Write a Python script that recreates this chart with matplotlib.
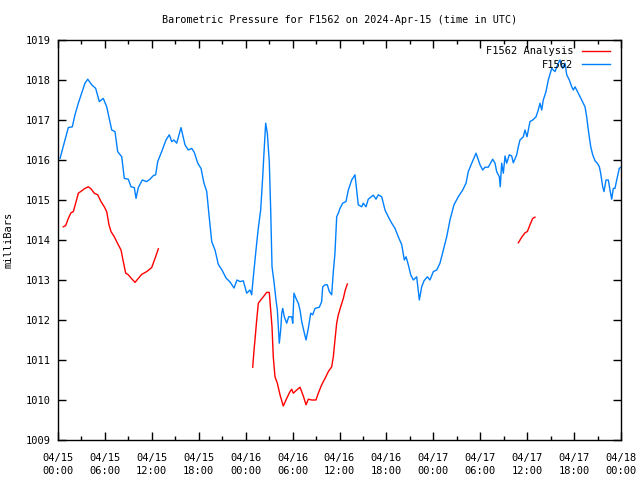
import matplotlib
matplotlib.use("Agg")
import matplotlib.pyplot as plt
import numpy as np

# hours since 2024-04-15 00:00 UTC
obs_hours = [0.26, 0.90, 1.32, 1.83, 2.17, 2.60, 3.03, 3.45, 3.80, 4.31, 4.82, 5.28, 5.79, 6.23,
             6.87, 7.29, 7.63, 8.15, 8.48, 8.99, 9.34, 9.76, 9.98, 10.27, 10.78, 11.34, 11.77,
             12.19, 12.49, 12.75, 13.26, 13.81, 14.23, 14.54, 14.83, 15.18, 15.73, 16.24, 16.66,
             17.10, 17.43, 17.87, 18.29, 18.67, 19.02, 19.31, 19.66, 20.08, 20.50, 20.97, 21.49,
             22.00, 22.51, 22.89, 23.28, 23.70, 24.13, 24.55, 24.77, 24.98, 25.41, 25.62, 25.92,
             26.18, 26.34, 26.56, 26.77, 27.02, 27.20, 27.37, 27.62, 27.88, 28.05, 28.17, 28.30,
             28.48, 28.61, 28.74, 28.94, 29.25, 29.50, 29.89, 30.02, 30.18, 30.44, 30.73, 30.95,
             31.17, 31.46, 31.72, 32.01, 32.32, 32.57, 32.87, 33.42, 33.72, 33.85, 34.15, 34.44,
             34.70, 35.00, 35.21, 35.42, 35.64, 35.85, 36.06, 36.41, 36.83, 37.13, 37.56, 37.98,
             38.20, 38.40, 38.84, 39.04, 39.39, 39.68, 40.32, 40.67, 40.96, 41.40, 41.82, 42.24,
             42.68, 43.10, 43.52, 43.96, 44.29, 44.51, 44.80, 45.11, 45.44, 45.87, 46.21, 46.51,
             46.81, 47.23, 47.57, 48.00, 48.43, 48.85, 49.28, 49.71, 50.13, 50.64, 51.19, 51.76,
             52.18, 52.47, 52.91, 53.46, 53.97, 54.31, 54.61, 55.03, 55.59, 55.89, 56.10, 56.44,
             56.56, 56.74, 56.95, 57.17, 57.38, 57.72, 58.02, 58.23, 58.66, 58.87, 59.08, 59.51,
             59.72, 59.98, 60.36, 60.71, 61.13, 61.42, 61.64, 61.86, 62.06, 62.41, 62.70, 63.14,
             63.56, 63.98, 64.20, 64.54, 64.84, 65.06, 65.39, 65.70, 65.90, 66.12, 66.54, 66.97,
             67.40, 67.61, 67.82, 68.13, 68.38, 68.68, 68.97, 69.23, 69.40, 69.66, 69.83, 70.08,
             70.38, 70.59, 70.81, 71.02, 71.23, 71.45, 71.78, 72.00]
obs_mb = [1016.04, 1016.50, 1016.81, 1016.83, 1017.13, 1017.42, 1017.67, 1017.92, 1018.02, 1017.88,
          1017.79, 1017.46, 1017.54, 1017.33, 1016.75, 1016.71, 1016.21, 1016.08, 1015.54, 1015.52,
          1015.33, 1015.31, 1015.04, 1015.31, 1015.50, 1015.46, 1015.52, 1015.61, 1015.63, 1015.96,
          1016.21, 1016.50, 1016.63, 1016.46, 1016.50, 1016.42, 1016.81, 1016.38, 1016.25, 1016.29,
          1016.19, 1015.92, 1015.79, 1015.42, 1015.21, 1014.63, 1013.96, 1013.75, 1013.39, 1013.25,
          1013.05, 1012.95, 1012.80, 1013.00, 1012.96, 1012.98, 1012.67, 1012.75, 1012.63, 1013.08,
          1013.92, 1014.30, 1014.75, 1015.58, 1016.17, 1016.92, 1016.67, 1015.96, 1014.75, 1013.33,
          1012.96, 1012.50, 1012.25, 1011.83, 1011.42, 1011.75, 1012.17, 1012.29, 1012.08, 1011.92,
          1012.08, 1012.08, 1011.92, 1012.67, 1012.54, 1012.42, 1012.25, 1011.96, 1011.71, 1011.50,
          1011.79, 1012.17, 1012.13, 1012.29, 1012.32, 1012.46, 1012.83, 1012.88, 1012.88, 1012.71,
          1012.63, 1013.21, 1013.67, 1014.58, 1014.67, 1014.79, 1014.92, 1014.96, 1015.25, 1015.50,
          1015.63, 1015.25, 1014.88, 1014.83, 1014.92, 1014.83, 1015.02, 1015.12, 1015.02, 1015.13,
          1015.08, 1014.75, 1014.58, 1014.42, 1014.29, 1014.08, 1013.88, 1013.50, 1013.58, 1013.38,
          1013.13, 1013.00, 1013.08, 1012.50, 1012.83, 1012.98, 1013.08, 1013.00, 1013.21, 1013.25,
          1013.42, 1013.75, 1014.08, 1014.50, 1014.88, 1015.08, 1015.25, 1015.42, 1015.71, 1015.92,
          1016.17, 1015.88, 1015.75, 1015.82, 1015.82, 1016.02, 1015.92, 1015.71, 1015.58, 1015.33,
          1015.92, 1015.67, 1016.10, 1015.92, 1016.13, 1016.10, 1015.93, 1016.13, 1016.33, 1016.50,
          1016.58, 1016.75, 1016.58, 1016.96, 1017.00, 1017.08, 1017.25, 1017.42, 1017.25, 1017.50,
          1017.71, 1018.00, 1018.29, 1018.21, 1018.42, 1018.50, 1018.29, 1018.42, 1018.13, 1018.00,
          1017.83, 1017.75, 1017.83, 1017.67, 1017.50, 1017.33, 1017.08, 1016.75, 1016.33, 1016.13,
          1015.98, 1015.92, 1015.83, 1015.67, 1015.33, 1015.21, 1015.50, 1015.50, 1015.25, 1015.02,
          1015.29, 1015.29, 1015.50, 1015.79, 1015.82]

# analysis, three separate runs
ana1_hours = [0.68, 0.98, 1.32, 1.66, 1.96, 2.26, 2.60, 3.03, 3.45, 3.88, 4.22, 4.64, 5.08, 5.50,
              5.92, 6.23, 6.52, 6.78, 7.20, 7.71, 8.06, 8.35, 8.66, 8.99, 9.43, 9.85, 10.27,
              10.70, 11.34, 11.98, 12.41, 12.83]
ana1_mb = [1014.33, 1014.36, 1014.54, 1014.68, 1014.71, 1014.92, 1015.17, 1015.23, 1015.29,
           1015.33, 1015.28, 1015.17, 1015.13, 1014.96, 1014.83, 1014.71, 1014.38, 1014.21,
           1014.08, 1013.88, 1013.75, 1013.46, 1013.17, 1013.13, 1013.03, 1012.94, 1013.04,
           1013.14, 1013.21, 1013.31, 1013.54, 1013.78]
ana2_hours = [24.90, 25.07, 25.19, 25.41, 25.62, 25.92, 26.26, 26.69, 27.02, 27.20, 27.37, 27.53,
              27.75, 28.05, 28.39, 28.81, 29.25, 29.67, 29.89, 30.09, 30.53, 30.95, 31.37, 31.72,
              32.01, 32.45, 32.99, 33.29, 33.72, 34.15, 34.57, 35.00, 35.21, 35.42, 35.64, 35.85,
              36.15, 36.49, 36.74, 37.00]
ana2_mb = [1010.82, 1011.25, 1011.50, 1012.00, 1012.42, 1012.50, 1012.58, 1012.69, 1012.69,
           1012.25, 1011.83, 1011.08, 1010.58, 1010.42, 1010.13, 1009.85, 1010.04, 1010.21,
           1010.27, 1010.17, 1010.25, 1010.32, 1010.10, 1009.88, 1010.02, 1010.00, 1010.00,
           1010.17, 1010.38, 1010.54, 1010.71, 1010.83, 1011.08, 1011.50, 1011.92, 1012.13,
           1012.33, 1012.54, 1012.75, 1012.90]
ana3_hours = [58.87, 59.30, 59.72, 60.02, 60.36, 60.71, 61.00]
ana3_mb = [1013.93, 1014.07, 1014.18, 1014.21, 1014.38, 1014.54, 1014.57]

tick_hours = list(range(0, 73, 6))
tick_labels = ["04/15\n00:00", "04/15\n06:00", "04/15\n12:00", "04/15\n18:00",
               "04/16\n00:00", "04/16\n06:00", "04/16\n12:00", "04/16\n18:00",
               "04/17\n00:00", "04/17\n06:00", "04/17\n12:00", "04/17\n18:00",
               "04/18\n00:00"]

plt.rcParams['font.family'] = ['DejaVu Sans Mono']
plt.rcParams['font.size'] = 7.5

fig = plt.figure(figsize=(6.4, 4.8), dpi=100)
ax = fig.add_axes([58 / 640, 40 / 480, 563 / 640, 400 / 480])

red = "#ff0000"
blue = "#0080ff"
ax.plot(ana1_hours, ana1_mb, color=red, lw=1, label="F1562 Analysis")
ax.plot(ana2_hours, ana2_mb, color=red, lw=1)
ax.plot(ana3_hours, ana3_mb, color=red, lw=1)
ax.plot(obs_hours, obs_mb, color=blue, lw=1, label="F1562")

ax.set_xlim(0, 72)
ax.set_ylim(1009, 1019)
ax.set_xticks(tick_hours)
ax.set_xticklabels(tick_labels, linespacing=1.4)
ax.set_xticks(range(3, 72, 6), minor=True)
ax.set_yticks(range(1009, 1020))
ax.tick_params(which="both", direction="in", top=True, right=True, width=1, colors="black")
ax.tick_params(which="major", length=6, pad=5)
ax.tick_params(axis="x", which="major", pad=9)
ax.tick_params(which="minor", length=3)
for s in ax.spines.values():
    s.set_linewidth(1)

ax.set_title("Barometric Pressure for F1562 on 2024-Apr-15 (time in UTC)", fontsize=7.3, pad=12)
ax.set_ylabel("milliBars", labelpad=9)

ax.legend(loc="upper right", bbox_to_anchor=(1 - 7 / 563, 1 - 2 / 400), frameon=False,
          markerfirst=False, handlelength=2.7, borderaxespad=0.1, labelspacing=0.35,
          handletextpad=0.8, borderpad=0.3)

fig.savefig("out.png", dpi=100)
